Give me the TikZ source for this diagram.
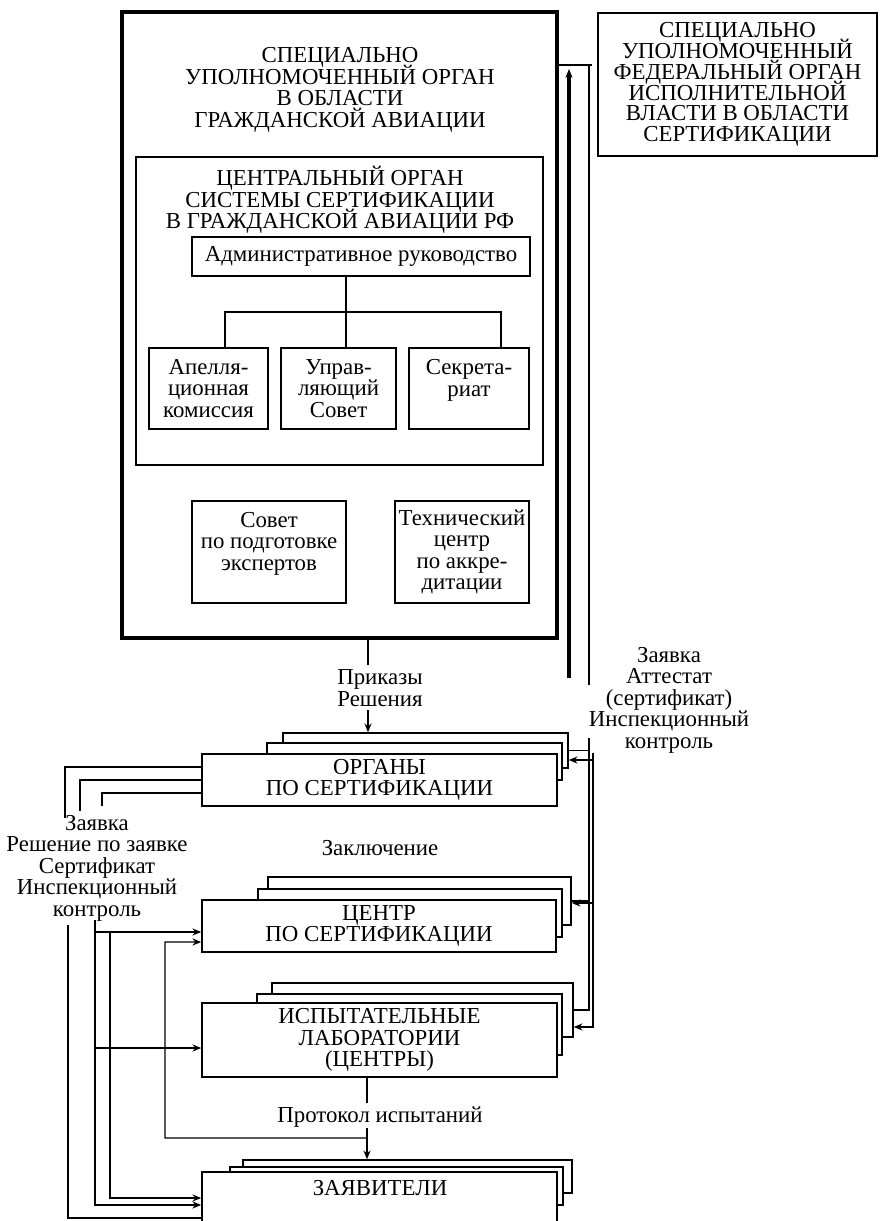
\documentclass[tikz,border=0pt]{standalone}
\usepackage{fontspec}
\setmainfont{Liberation Serif}
\usetikzlibrary{positioning, arrows.meta}

\newcommand\diagfont{\fontsize{13}{12.2}\selectfont\lineskiplimit=-20pt\relax}
\newcommand\fedfont{\fontsize{13}{11.8}\selectfont\lineskiplimit=-20pt\relax}

\tikzset{
  box/.style={draw, line width=0.9pt, fill=white, align=center, inner sep=1pt},
  mainbox/.style={draw, line width=2.4pt},
  card/.style={draw, line width=0.8pt, fill=white},
  lbl/.style={align=center, inner sep=0pt},
  ln/.style={line width=0.8pt},
  att/.style={line width=1.4pt},
  upln/.style={line width=1.8pt},
}

\begin{document}
\begin{tikzpicture}[x=0.02cm, y=-0.02cm, >={Stealth[length=5pt, width=4pt]},
    font=\diagfont]
    \useasboundingbox (0,0) rectangle (880,1221);

    % Define nodes
    \node[mainbox, minimum width=8.7cm, minimum height=12.52cm] (main) at (339.5,325) {};
    \node[lbl] (mainT) at (340,90) {СПЕЦИАЛЬНО\\УПОЛНОМОЧЕННЫЙ ОРГАН\\В ОБЛАСТИ\\ГРАЖДАНСКОЙ АВИАЦИИ};
    \node[box, minimum width=5.58cm, minimum height=2.86cm, font=\fedfont] (fed) at (737.5,84.5) {СПЕЦИАЛЬНО\\УПОЛНОМОЧЕННЫЙ\\ФЕДЕРАЛЬНЫЙ ОРГАН\\ИСПОЛНИТЕЛЬНОЙ\\ВЛАСТИ В ОБЛАСТИ\\СЕРТИФИКАЦИИ};

    \node[box, minimum width=8.14cm, minimum height=6.16cm] (central) at (339.5,311) {};
    \node[lbl] (centralT) at (340,200) {ЦЕНТРАЛЬНЫЙ ОРГАН\\СИСТЕМЫ СЕРТИФИКАЦИИ\\В ГРАЖДАНСКОЙ АВИАЦИИ РФ};
    \node[box, minimum width=6.76cm, minimum height=0.78cm] (admin) at (361,256.5) {Административное руководство};
    \node[box, minimum width=2.38cm, minimum height=1.62cm] (appeal) at (208.5,388.5) {Апелля-\\ционная\\комиссия};
    \node[box, minimum width=2.3cm, minimum height=1.62cm] (board) at (338.5,388.5) {Управ-\\ляющий\\Совет};
    \node[box, minimum width=2.4cm, minimum height=1.62cm] (secr) at (469,388.5) {Секрета-\\риат\\\mbox{}};
    \node[box, minimum width=3.08cm, minimum height=2.04cm] (experts) at (269,552) {Совет\\по подготовке\\экспертов\\\mbox{}};
    \node[box, minimum width=2.68cm, minimum height=2.04cm] (techc) at (462,552) {Технический\\центр\\по аккре-\\дитации};

    % stacked boxes
    \node[card, minimum width=5.7cm, minimum height=0.7cm] (orgC) at (425.5,750.5) {};
    \node[card, minimum width=5.9cm, minimum height=0.74cm] (orgB) at (414.5,761.5) {};
    \node[box, minimum width=7.1cm, minimum height=1.04cm] (organs) at (379.5,780) {ОРГАНЫ\\ПО СЕРТИФИКАЦИИ};

    \node[card, minimum width=6.06cm, minimum height=0.96cm] (cenC) at (419.5,901) {};
    \node[card, minimum width=6.08cm, minimum height=0.96cm] (cenB) at (410,913) {};
    \node[box, minimum width=7.08cm, minimum height=1.04cm] (centre) at (379,926) {ЦЕНТР\\ПО СЕРТИФИКАЦИИ};

    \node[card, minimum width=6.02cm, minimum height=1.08cm] (labC) at (422.5,1010) {};
    \node[card, minimum width=6.1cm, minimum height=1.22cm] (labB) at (409.5,1024.5) {};
    \node[box, minimum width=7.1cm, minimum height=1.48cm] (labs) at (379.5,1040) {ИСПЫТАТЕЛЬНЫЕ\\ЛАБОРАТОРИИ\\(ЦЕНТРЫ)};

    \node[card, minimum width=6.58cm, minimum height=0.66cm] (apC) at (407.5,1176.5) {};
    \node[card, minimum width=6.66cm, minimum height=0.76cm] (apB) at (396.5,1186) {};
    \node[box, minimum width=7.1cm, minimum height=1.04cm] (applic) at (379.5,1198) {};
    \node[lbl] (applicT) at (380,1188) {ЗАЯВИТЕЛИ};

    % labels
    \node[lbl] (orders) at (380,688) {Приказы\\Решения};
    \node[lbl] (concl) at (380,848) {Заключение};
    \node[lbl] (prot) at (380,1117) {Протокол испытаний};
    \node[lbl] (reqs) at (97,868) {Заявка\\Решение по заявке\\Сертификат\\Инспекционный\\контроль};
    \node[lbl] (attest) at (669,700) {Заявка\\Аттестат\\(сертификат)\\Инспекционный\\контроль};

    % inner tree
    \coordinate (busL) at (225,312);
    \coordinate (busM) at (346,312);
    \coordinate (busR) at (501,312);
    \draw[ln] (admin.south -| busM) -- (board.north -| busM);
    \draw[ln] (appeal.north -| busL) -- (busL) -- (busR) -- (secr.north -| busR);

    % orders down
    \coordinate (ordA) at (368,665);
    \coordinate (ordB) at (368,710);
    \draw[ln] (main.south -| ordA) -- (ordA);
    \draw[ln,->] (ordB) -- (ordB |- orgC.north);

    % right side
    \coordinate (topJ) at (592,65);
    \coordinate (upS) at (569,678);
    \coordinate (upE) at (569,69);
    \draw[ln] (main.east |- topJ) -- (topJ);
    \draw[upln,->] (upS) -- (upE);
    \coordinate (thA) at (589,65);
    \coordinate (thB) at (589,685);
    \coordinate (thC) at (589,738);
    \draw[ln] (thA) -- (thB);
    \draw[ln] (orgC.east) -| (thC);
    \draw[ln] (thC) |- (labC.east);
    \draw[ln] (cenC.east) -- (cenC.east -| thC);

    \coordinate (atS) at (593,753);
    \coordinate (aO) at ([yshift=-0.19cm]orgC.east);
    \coordinate (aC) at ([yshift=-0.04cm]cenC.east);
    \coordinate (aL) at ([yshift=-0.34cm]labC.east);
    \draw[att,->] (atS) |- (aL);
    \draw[att,->] (aO -| atS) -- (aO);
    \draw[att,->] (aC -| atS) -- (aC);

    % left side
    \coordinate (lA) at (65,818);
    \coordinate (lB) at (80,811);
    \coordinate (lC) at (102,806);
    \draw[ln] ([yshift=0.26cm]organs.west) -| (lA);
    \draw[ln] (organs.west) -| (lB);
    \draw[ln] ([yshift=-0.26cm]organs.west) -| (lC);

    \coordinate (dA) at (68,925);
    \coordinate (dB) at (95,920);
    \coordinate (dC) at (110,932);
    \coordinate (dD) at (165,942);
    \coordinate (zA) at ([yshift=-0.4cm]applic.west);
    \coordinate (zB) at ([yshift=-0.14cm]applic.west);
    \coordinate (cB) at ([yshift=-0.12cm]centre.west);
    \coordinate (cD) at ([yshift=-0.32cm]centre.west);
    \coordinate (lbB) at ([yshift=-0.16cm]labs.west);
    \draw[ln] (dA) |- (zA);
    \draw[att,->] (dB) |- (zB);
    \draw[att,->] (cB -| dB) -- (cB);
    \draw[att,->] (lbB -| dB) -- (lbB);
    \draw[ln,->] (dC) |- (applic.west);

    % protocol
    \coordinate (pA) at (367,1103);
    \coordinate (pB) at (367,1128);
    \coordinate (pJ) at (367,1138);
    \draw[ln] (labs.south -| pA) -- (pA);
    \draw[att,->] (pB) -- (pB |- apC.north);
    \draw[ln,->] (pJ) -| (dD) -- (cD);

\end{tikzpicture}
\end{document}
